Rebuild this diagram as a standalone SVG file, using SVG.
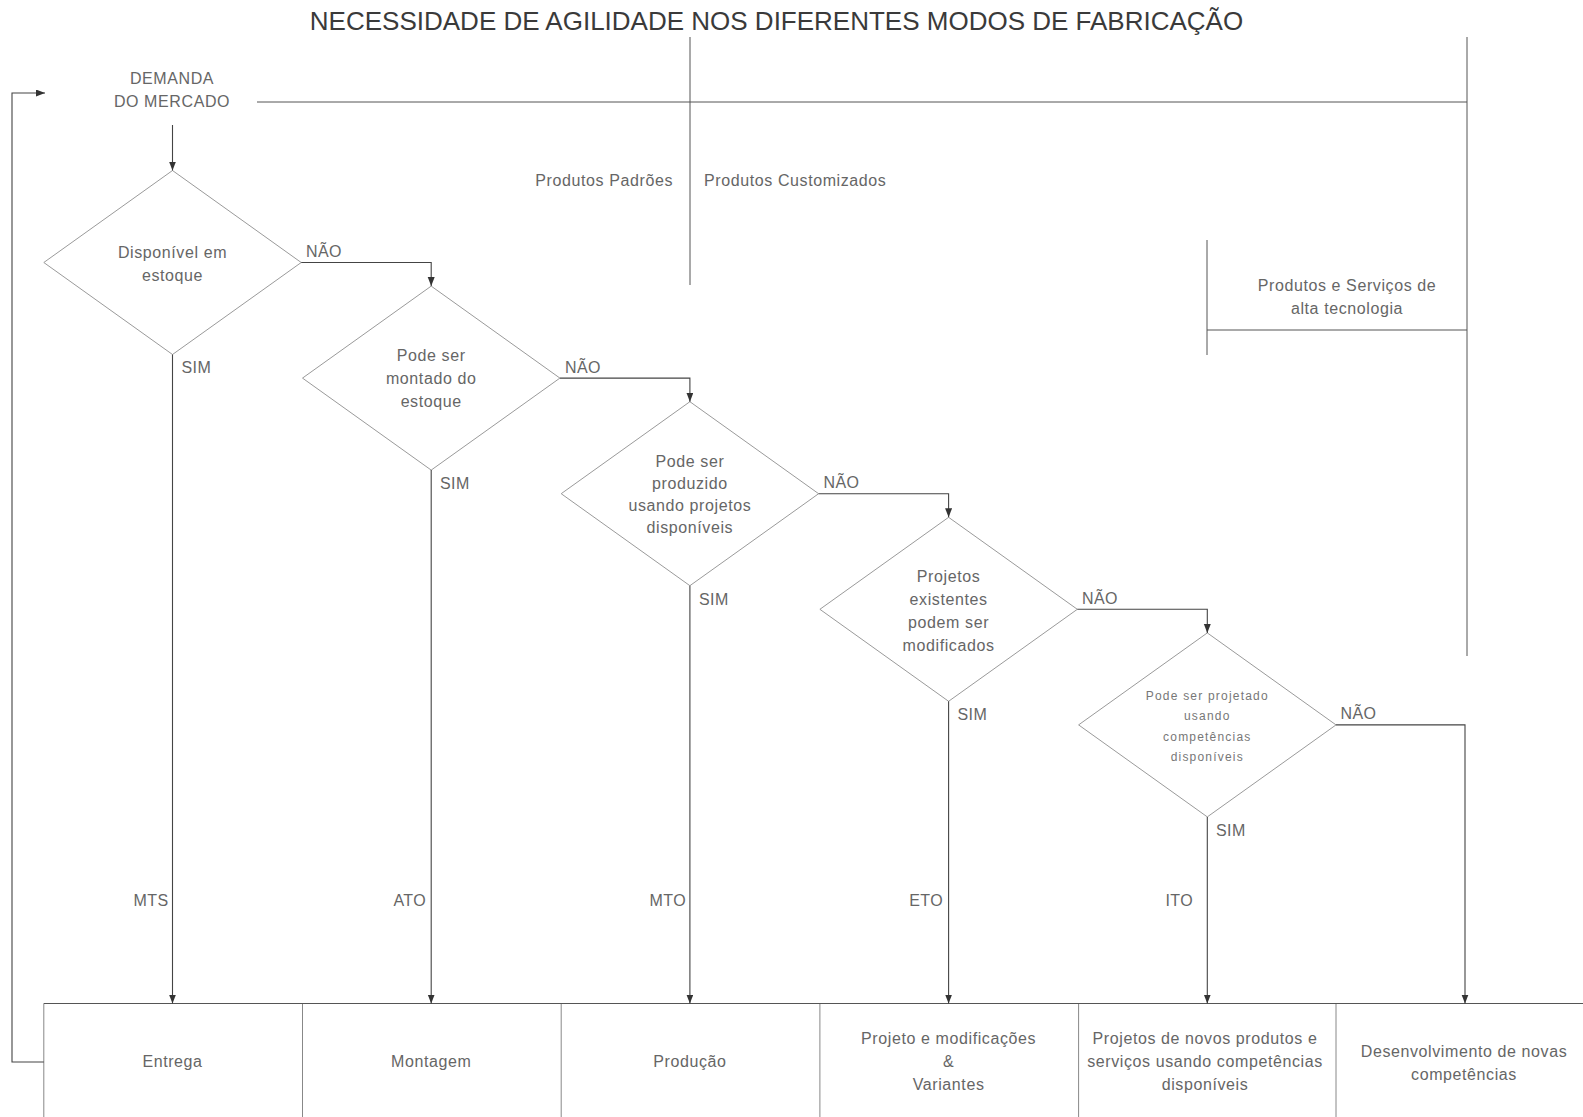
<svg xmlns="http://www.w3.org/2000/svg" width="1583" height="1117" viewBox="0 0 1583 1117">
  <defs>
    <marker id="arrow" markerUnits="userSpaceOnUse" markerWidth="10" markerHeight="8" refX="9" refY="3.5" orient="auto">
      <path d="M0,0 L9,3.5 L0,7 z" fill="#333"/>
    </marker>
    <style>
      .bg { fill: #ffffff; }
      .title { font-family: "Liberation Sans", Arial, sans-serif; font-size: 26px; fill: #3a3a3a; text-anchor: middle; }
      .lbl { font-family: "Liberation Sans", Arial, sans-serif; font-size: 16px; letter-spacing: 0.6px; fill: #666; text-anchor: middle; }
      .small { font-family: "Liberation Sans", Arial, sans-serif; font-size: 12px; letter-spacing: 1.2px; fill: #777; text-anchor: middle; }
      .tag { font-family: "Liberation Sans", Arial, sans-serif; font-size: 16px; letter-spacing: 0.4px; fill: #666; }
      .end { text-anchor: end; }
      .diamond { fill: none; stroke: #9a9a9a; stroke-width: 1; }
      .conn { fill: none; stroke: #444; stroke-width: 1.1; }
      .arr { marker-end: url(#arrow); }
      .frame { fill: none; stroke: #555; stroke-width: 1; }
      .box { fill: none; stroke: #888; stroke-width: 1; }
    </style>
  </defs>

  <rect class="bg" x="0" y="0" width="1583" height="1117"/>

  <text class="title" x="776.5" y="29.5">NECESSIDADE DE AGILIDADE NOS DIFERENTES MODOS DE FABRICAÇÃO</text>

  <!-- market segment frame -->
  <g id="segments">
    <path class="frame" d="M257,102 H1467 M690,37 V285 M1467,37 V656 M1207,240 V355 M1207,330 H1467"/>
    <text class="lbl end" x="673" y="186">Produtos Padrões</text>
    <text class="lbl" x="704" y="186" style="text-anchor:start">Produtos Customizados</text>
    <text class="lbl" x="1347" y="291">Produtos e Serviços de</text>
    <text class="lbl" x="1347" y="314">alta tecnologia</text>
  </g>

  <g id="demanda">
    <text class="lbl" x="172" y="84">DEMANDA</text>
    <text class="lbl" x="172" y="107">DO MERCADO</text>
  </g>

  <!-- decision diamonds -->
  <g id="d1">
    <polygon class="diamond" points="172.5,170.5 301.2,262.5 172.5,354.5 43.8,262.5"/>
    <text class="lbl" x="172.5" y="257.5">Disponível em</text>
    <text class="lbl" x="172.5" y="281">estoque</text>
  </g>
  <g id="d2">
    <polygon class="diamond" points="431.2,286.1 559.9,378.1 431.2,470.1 302.5,378.1"/>
    <text class="lbl" x="431.2" y="361">Pode ser</text>
    <text class="lbl" x="431.2" y="384">montado do</text>
    <text class="lbl" x="431.2" y="407">estoque</text>
  </g>
  <g id="d3">
    <polygon class="diamond" points="689.9,401.7 818.6,493.7 689.9,585.7 561.2,493.7"/>
    <text class="lbl" x="689.9" y="467">Pode ser</text>
    <text class="lbl" x="689.9" y="489">produzido</text>
    <text class="lbl" x="689.9" y="511">usando projetos</text>
    <text class="lbl" x="689.9" y="533">disponíveis</text>
  </g>
  <g id="d4">
    <polygon class="diamond" points="948.6,517.3 1077.3,609.3 948.6,701.3 819.9,609.3"/>
    <text class="lbl" x="948.6" y="582">Projetos</text>
    <text class="lbl" x="948.6" y="605">existentes</text>
    <text class="lbl" x="948.6" y="628">podem ser</text>
    <text class="lbl" x="948.6" y="651">modificados</text>
  </g>
  <g id="d5">
    <polygon class="diamond" points="1207.3,632.9 1336,724.9 1207.3,816.9 1078.6,724.9"/>
    <text class="small" x="1207.3" y="700">Pode ser projetado</text>
    <text class="small" x="1207.3" y="720">usando</text>
    <text class="small" x="1207.3" y="740.5">competências</text>
    <text class="small" x="1207.3" y="761">disponíveis</text>
  </g>

  <!-- outcome boxes -->
  <g id="outcomes">
    <path class="box" d="M43.8,1003.5 V1117 M302.5,1003.5 V1117 M561.2,1003.5 V1117 M819.9,1003.5 V1117 M1078.6,1003.5 V1117 M1336,1003.5 V1117"/>
    <path class="frame" d="M43.8,1003.5 H1583"/>
  </g>
  <g id="entrega"><text class="lbl" x="172.5" y="1067">Entrega</text></g>
  <g id="montagem"><text class="lbl" x="431.2" y="1067">Montagem</text></g>
  <g id="producao"><text class="lbl" x="689.9" y="1067">Produção</text></g>
  <g id="projeto">
    <text class="lbl" x="948.6" y="1044">Projeto e modificações</text>
    <text class="lbl" x="948.6" y="1067">&amp;</text>
    <text class="lbl" x="948.6" y="1090">Variantes</text>
  </g>
  <g id="novos">
    <text class="lbl" x="1205" y="1044">Projetos de novos produtos e</text>
    <text class="lbl" x="1205" y="1067">serviços usando competências</text>
    <text class="lbl" x="1205" y="1090">disponíveis</text>
  </g>
  <g id="desenvolvimento">
    <text class="lbl" x="1464" y="1057">Desenvolvimento de novas</text>
    <text class="lbl" x="1464" y="1080">competências</text>
  </g>

  <!-- connectors -->
  <g id="connectors">
    <path class="conn arr" d="M172.5,125 V170.5"/>
    <path class="conn arr" d="M301.2,262.5 H431.2 V286.1"/>
    <path class="conn arr" d="M559.9,378.1 H689.9 V401.7"/>
    <path class="conn arr" d="M818.6,493.7 H948.6 V517.3"/>
    <path class="conn arr" d="M1077.3,609.3 H1207.3 V632.9"/>
    <path class="conn arr" d="M1336,724.9 H1465 V1003.5"/>
    <path class="conn arr" d="M172.5,354.5 V1003.5"/>
    <path class="conn arr" d="M431.2,470.1 V1003.5"/>
    <path class="conn arr" d="M689.9,585.7 V1003.5"/>
    <path class="conn arr" d="M948.6,701.3 V1003.5"/>
    <path class="conn arr" d="M1207.3,816.9 V1003.5"/>
    <path class="conn arr" d="M43.8,1062 H12 V93 H45"/>

    <text class="tag" x="306" y="257">NÃO</text>
    <text class="tag" x="565" y="372.5">NÃO</text>
    <text class="tag" x="823.5" y="488">NÃO</text>
    <text class="tag" x="1082" y="603.5">NÃO</text>
    <text class="tag" x="1340.5" y="719">NÃO</text>

    <text class="tag" x="181.5" y="373">SIM</text>
    <text class="tag" x="440" y="489">SIM</text>
    <text class="tag" x="699" y="604.5">SIM</text>
    <text class="tag" x="957.5" y="720">SIM</text>
    <text class="tag" x="1216" y="835.5">SIM</text>

    <text class="tag end" x="168.5" y="905.5">MTS</text>
    <text class="tag end" x="426" y="905.5">ATO</text>
    <text class="tag end" x="686" y="905.5">MTO</text>
    <text class="tag end" x="943" y="905.5">ETO</text>
    <text class="tag end" x="1193" y="905.5">ITO</text>
  </g>
</svg>
